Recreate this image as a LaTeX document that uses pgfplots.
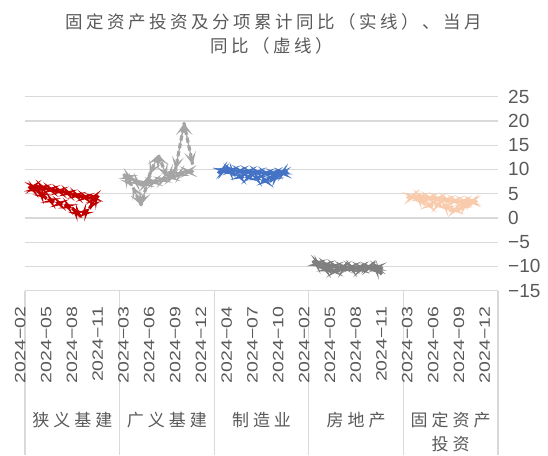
\documentclass[border=0pt]{standalone}
\usepackage{fontspec}
\setmainfont{Liberation Sans}
\newfontfamily\cjk{Noto Sans CJK SC}
\usepackage{pgfplots}
\usepackage{pgfplotstable}
\pgfplotsset{compat=1.18}
\usetikzlibrary{arrows.meta}

\definecolor{txt}{HTML}{595959}
\definecolor{gridc}{HTML}{D9D9D9}
\definecolor{cRed}{HTML}{C00000}
\definecolor{cGray}{HTML}{A5A5A5}
\definecolor{cBlue}{HTML}{4472C4}
\definecolor{cDark}{HTML}{7F7F7F}
\definecolor{cPeach}{HTML}{F8CBAD}

% set CJK characters on a fixed pitch
\makeatletter
\newcommand\spreadchars[2]{\@tfor\spc@ch:=#2\do{\makebox[#1]{\spc@ch}}}
\makeatother
% month labels are set a little wide
\newcommand\ml[1]{\scalebox{1.3}[1]{#1}}

\tikzset{tipA/.tip={Stealth[length=13pt,width=12pt,inset=7pt]}}
\pgfplotsset{
  cumline/.style={#1, line width=3.2pt, line join=round, line cap=round, mark=none},
  monline/.style={#1, line width=3.2pt, line join=round, dash pattern=on 5pt off 3pt, mark=none},
  % arrow heads on both ends of each segment, from a point to the next one
  segtips/.style 2 args={#1, mark=none, skip coords between index={8}{9},
    quiver={u=1, v=\thisrow{#2},
      every arrow/.append style={line width=1.2pt, tipA-tipA}}},
}

% x = position on the category axis (11 months per group)
% cum = cumulative YoY, mon = monthly YoY, dc / dm = change to the next month
\pgfplotstableread{
x cum mon dc dm
0 6.3 6.3 0.2 -0.8
1 6.5 5.5 -0.5 -1.5
2 6.0 4.0 -0.3 -0.8
3 5.7 3.2 -0.3 -0.4
4 5.4 2.8 -0.5 -0.8
5 4.9 2.0 -0.5 -1.7
6 4.4 0.3 -0.3 1.7
7 4.1 2.0 0.3 2.6
8 4.4 4.6 0 0
}\narrowinfra
\pgfplotstableread{
x cum mon dc dm
11 8.9 8.9 -0.9 -2.4
12 8.0 6.5 -1.2 -3.8
13 6.8 2.7 0.5 6.3
14 7.3 9.0 0.3 4.0
15 7.6 13.0 0.6 -4.5
16 8.2 8.5 0.4 1.5
17 8.6 10.0 0.9 9.5
18 9.5 19.5 0.1 -8.5
19 9.6 11.0 0 0
}\broadinfra
\pgfplotstableread{
x cum mon dc dm
22 9.4 9.4 0.5 0.9
23 9.9 10.3 -0.2 -1.5
24 9.7 8.8 -0.1 -0.5
25 9.6 8.3 -0.1 0.3
26 9.5 8.6 -0.2 -0.8
27 9.3 7.8 -0.2 -0.2
28 9.1 7.6 0.1 1.4
29 9.2 9.0 0.1 0.8
30 9.3 9.8 0 0
}\manufacturing
\pgfplotstableread{
x cum mon dc dm
33 -9.0 -9.0 -0.5 -1.2
34 -9.5 -10.2 -0.3 -0.8
35 -9.8 -11.0 -0.3 0.1
36 -10.1 -10.9 0 0.8
37 -10.1 -10.1 -0.1 -0.7
38 -10.2 -10.8 0 0.4
39 -10.2 -10.4 0.1 0.4
40 -10.1 -10.0 -0.2 -1.6
41 -10.3 -11.6 0 0
}\realestate
\pgfplotstableread{
x cum mon dc dm
44 4.2 4.2 0.3 0.3
45 4.5 4.5 -0.3 -1.7
46 4.2 2.8 -0.2 -0.3
47 4.0 2.5 -0.1 0.5
48 3.9 3.0 -0.3 -1.5
49 3.6 1.5 -0.2 0.3
50 3.4 1.8 0 1.2
51 3.4 3.0 0 0.5
52 3.4 3.5 0 0
}\fai

\begin{document}
\begin{tikzpicture}[x=1pt,y=1pt]
\useasboundingbox (0,0) rectangle (548,455);

% title
\node[text=txt, font=\cjk\fontsize{17.5}{17.5}\selectfont] at (274,433) {\spreadchars{21pt}{固定资产投资及分项累计同比（实线）、当月}};
\node[text=txt, font=\cjk\fontsize{17.5}{17.5}\selectfont] at (272,409) {\spreadchars{21pt}{同比（虚线）}};

% category table lines below the plot
\foreach \gx in {25,119.6,214.2,308.8,403.4,498}
  \draw[gridc, line width=1.2pt] (\gx,164.3) -- (\gx,0);

\begin{axis}[
  at={(25pt,164.3pt)}, anchor=south west,
  scale only axis, width=473pt, height=194pt,
  xmin=-0.5, xmax=54.5, ymin=-15, ymax=25,
  clip=false,
  axis line style={draw=none},
  major tick length=0pt,
  ymajorgrids, grid style={gridc, line width=1.2pt},
  ytick={-15,-10,...,25},
  yticklabels={−15,−10,−5,0,5,10,15,20,25},
  yticklabel pos=right,
  yticklabel style={font=\fontsize{19}{19}\selectfont, text=txt, anchor=west, inner sep=0pt, xshift=10pt},
  xtick={0,3,...,54},
  xticklabels={\ml{2024−02},\ml{2024−05},\ml{2024−08},\ml{2024−11},\ml{2024−03},\ml{2024−06},\ml{2024−09},\ml{2024−12},\ml{2024−04},\ml{2024−07},\ml{2024−10},\ml{2024−02},\ml{2024−05},\ml{2024−08},\ml{2024−11},\ml{2024−03},\ml{2024−06},\ml{2024−09},\ml{2024−12}},
  xticklabel style={font=\fontsize{15}{15}\selectfont, text=txt, inner sep=0pt, xshift=-9pt, yshift=-16pt, rotate=90, anchor=east},
]
% 狭义基建
\addplot[cumline=cRed] table[x=x,y=cum]{\narrowinfra};
\addplot[segtips={cRed}{dc}] table[x=x,y=cum]{\narrowinfra};
\addplot[monline=cRed] table[x=x,y=mon]{\narrowinfra};
\addplot[segtips={cRed}{dm}] table[x=x,y=mon]{\narrowinfra};
% 广义基建
\addplot[cumline=cGray] table[x=x,y=cum]{\broadinfra};
\addplot[segtips={cGray}{dc}] table[x=x,y=cum]{\broadinfra};
\addplot[monline=cGray] table[x=x,y=mon]{\broadinfra};
\addplot[segtips={cGray}{dm}] table[x=x,y=mon]{\broadinfra};
% 制造业
\addplot[cumline=cBlue] table[x=x,y=cum]{\manufacturing};
\addplot[segtips={cBlue}{dc}] table[x=x,y=cum]{\manufacturing};
\addplot[monline=cBlue] table[x=x,y=mon]{\manufacturing};
\addplot[segtips={cBlue}{dm}] table[x=x,y=mon]{\manufacturing};
% 房地产
\addplot[cumline=cDark] table[x=x,y=cum]{\realestate};
\addplot[segtips={cDark}{dc}] table[x=x,y=cum]{\realestate};
\addplot[monline=cDark] table[x=x,y=mon]{\realestate};
\addplot[segtips={cDark}{dm}] table[x=x,y=mon]{\realestate};
% 固定资产投资
\addplot[cumline=cPeach] table[x=x,y=cum]{\fai};
\addplot[segtips={cPeach}{dc}] table[x=x,y=cum]{\fai};
\addplot[monline=cPeach] table[x=x,y=mon]{\fai};
\addplot[segtips={cPeach}{dm}] table[x=x,y=mon]{\fai};
\end{axis}

% group names
\begin{scope}[every node/.style={text=txt, font=\cjk\fontsize{17}{17}\selectfont, inner sep=0pt}]
\node at (72.3,35) {\spreadchars{21pt}{狭义基建}};
\node at (166.9,35) {\spreadchars{21pt}{广义基建}};
\node at (261.5,35) {\spreadchars{21pt}{制造业}};
\node at (356.1,35) {\spreadchars{21pt}{房地产}};
\node at (450.7,35) {\spreadchars{21pt}{固定资产}};
\node at (450.7,11) {\spreadchars{21pt}{投资}};
\end{scope}
\end{tikzpicture}
\end{document}
